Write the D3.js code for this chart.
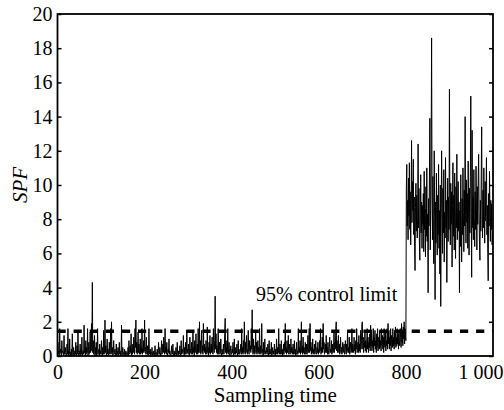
<!DOCTYPE html>
<html>
<head>
<meta charset="utf-8">
<script src="https://cdn.jsdelivr.net/npm/d3@7"></script>
<style>
  body { margin: 0; background: #fff; }
  svg text { font-family: "Times New Roman", "Liberation Serif", Times, "DejaVu Serif", serif; fill: #000; }
</style>
</head>
<body>
<div class="chart"></div>
<script>
var serifFont = "'Times New Roman', 'Liberation Serif', Times, 'DejaVu Serif', serif";

// SPF statistic, normal operation (samples 0-799)
var normalSPF = [
  0.2,0.8,0.1,0.3,0.0,1.6,0.2,0.4,0.1,0.0,0.9,0.2,0.3,0.1,0.0,1.2,0.1,0.3,0.5,0.1,
  0.0,0.2,0.7,0.1,1.6,0.0,0.3,0.1,1.0,0.0,0.2,0.1,0.4,0.0,1.3,0.2,0.0,0.5,0.1,0.0,
  0.3,0.1,0.8,0.0,0.2,0.6,0.1,1.5,0.2,0.0,0.3,0.1,0.7,0.0,0.4,0.1,1.1,0.0,0.2,0.3,
  0.1,1.8,0.2,0.3,0.0,0.9,0.1,0.5,0.2,1.6,0.0,0.3,0.8,0.1,0.4,1.4,0.2,0.5,1.9,0.3,
  4.3,0.2,0.9,0.1,0.3,1.2,0.0,0.5,0.1,0.8,0.0,0.2,1.6,0.1,0.2,0.4,0.0,0.7,0.1,0.3,
  0.1,0.9,0.2,0.0,0.5,0.1,1.5,0.1,0.3,2.1,0.2,0.6,0.0,0.2,1.0,0.1,0.4,0.0,0.2,0.8,
  0.1,0.3,1.6,0.1,2.0,0.2,0.5,0.0,0.2,0.9,0.1,0.2,0.4,0.0,0.1,0.7,0.0,0.3,0.1,0.5,
  0.0,0.2,0.8,0.1,0.3,0.0,0.1,1.8,0.0,0.2,0.5,0.1,0.2,0.0,0.4,0.1,0.0,0.3,0.1,0.2,
  0.0,0.1,0.5,0.0,0.9,0.2,0.1,0.6,0.2,1.3,0.0,0.3,0.1,0.7,0.2,1.1,0.4,0.1,1.6,0.5,
  2.1,0.2,0.8,0.1,0.4,1.4,0.2,0.7,0.1,0.3,1.0,0.1,0.5,0.2,1.6,0.1,0.4,0.2,0.9,0.3,
  2.1,0.2,0.5,0.1,1.1,0.2,0.1,0.6,0.0,0.3,1.6,0.1,0.2,0.4,0.0,0.2,0.1,0.5,0.0,0.2,
  0.1,0.3,0.0,0.2,0.6,0.1,0.0,0.2,0.1,0.4,0.0,0.1,0.8,0.2,0.1,0.5,0.2,0.0,0.3,0.9,
  0.1,0.4,0.7,0.2,1.1,0.3,0.1,1.6,0.2,0.5,0.1,0.8,0.2,0.0,0.4,0.2,1.0,0.1,0.3,0.1,
  0.0,0.2,0.6,0.1,0.2,0.7,0.0,0.1,0.3,0.0,0.2,0.1,0.5,0.0,0.2,0.8,0.1,0.0,0.3,0.1,
  0.2,0.6,0.0,0.2,0.9,0.1,0.1,0.4,0.2,1.2,0.2,0.0,0.5,0.1,0.8,0.1,0.3,1.5,0.2,0.4,
  0.1,0.7,0.2,0.0,1.1,0.2,0.4,0.1,0.8,0.3,0.1,1.5,0.2,0.5,0.0,0.9,0.2,0.4,1.3,0.1,
  0.3,0.7,0.1,1.6,0.2,0.5,2.0,0.2,0.9,0.1,0.4,1.5,0.2,0.6,0.1,1.9,0.3,0.7,0.2,0.5,
  0.1,0.9,0.2,0.1,1.7,0.2,0.5,0.0,0.8,0.2,1.2,0.1,0.4,0.7,0.2,1.1,0.3,0.1,1.6,0.4,
  0.2,0.9,3.5,0.4,1.3,0.2,0.6,0.1,0.5,1.6,0.1,0.3,0.8,0.1,0.2,1.0,0.2,0.0,0.4,0.1,
  0.2,0.7,0.1,0.3,1.4,2.2,0.2,0.5,0.1,0.9,0.2,1.6,0.1,0.4,0.8,0.2,0.0,0.3,0.6,0.1,
  0.1,0.4,0.2,0.8,0.0,0.2,1.0,0.1,0.5,0.1,0.3,0.2,0.7,0.0,0.2,0.9,0.1,0.4,0.1,0.2,
  0.3,0.7,0.1,1.6,0.2,0.5,0.1,0.9,0.2,2.0,0.4,0.1,0.8,0.2,1.2,0.3,0.1,0.5,1.5,0.2,
  0.1,0.9,0.3,0.6,0.2,1.6,0.4,2.7,0.5,0.1,1.0,0.2,0.6,0.1,0.4,1.5,0.2,0.8,0.1,0.3,
  0.9,0.2,0.5,0.1,1.6,0.2,0.6,0.1,0.3,1.9,0.2,0.4,0.0,0.8,0.1,0.2,1.0,0.1,0.3,0.2,
  0.5,0.1,0.2,0.7,0.0,0.2,0.9,0.1,0.4,0.1,0.2,0.8,0.0,0.2,0.5,0.1,0.3,0.1,0.7,0.2,
  0.0,0.4,0.1,1.0,0.2,0.1,0.5,0.2,1.6,0.1,0.3,0.7,0.1,0.2,0.9,0.1,0.4,0.0,0.2,0.7,
  0.1,0.8,0.3,1.9,0.2,0.5,0.1,0.9,0.2,0.4,1.2,0.1,0.3,0.7,0.1,0.2,1.0,0.2,0.5,0.1,
  0.3,0.7,0.1,0.2,0.9,0.1,0.4,0.0,0.2,0.8,0.1,0.3,0.1,1.6,0.2,0.5,0.2,0.9,0.1,0.4,
  2.0,0.2,0.6,0.1,1.1,0.2,0.5,0.1,0.3,0.8,0.1,0.2,0.7,0.1,0.4,1.2,0.2,0.5,1.6,0.2,
  1.9,0.3,0.8,0.1,0.5,0.2,1.0,0.1,0.4,0.2,0.7,0.1,0.3,0.9,0.2,0.1,0.5,0.2,0.8,0.1,
  0.4,0.2,0.9,0.3,1.6,0.1,0.5,0.2,1.1,0.2,1.9,0.4,0.8,0.1,0.3,0.7,0.2,1.2,0.2,0.5,
  0.1,0.8,0.3,0.1,0.5,1.1,0.2,0.4,0.2,0.9,0.1,0.3,0.7,0.2,0.5,1.5,0.2,0.8,0.4,1.6,
  2.0,0.3,0.9,0.2,0.5,1.2,0.2,0.7,0.1,0.4,1.1,0.2,0.5,0.1,0.3,0.8,0.2,0.4,0.7,0.1,
  0.2,0.9,0.4,0.1,0.7,0.3,1.5,0.2,0.5,0.2,1.1,0.1,0.4,0.8,0.2,0.3,1.6,0.2,0.7,0.4,
  0.2,1.1,0.3,0.7,0.1,0.9,0.4,1.6,0.2,0.5,0.8,0.2,1.2,0.3,0.7,0.2,1.5,0.4,0.9,1.9,
  2.0,0.4,1.1,0.2,0.8,0.5,1.5,0.3,0.9,0.2,0.7,1.6,0.4,1.1,0.2,0.8,0.5,1.3,0.3,1.8,
  0.6,1.5,0.3,0.9,0.5,1.6,0.2,1.1,0.6,1.5,0.4,0.9,0.2,1.3,0.5,1.6,0.3,0.8,1.1,0.4,
  1.5,0.5,0.9,0.3,1.6,0.6,1.2,0.4,1.1,0.2,1.6,0.7,0.5,1.5,0.3,0.9,0.6,1.6,0.4,1.9,
  0.7,1.5,0.4,1.1,0.6,1.6,0.3,1.2,0.9,0.5,1.6,0.6,1.1,0.4,1.5,0.7,1.7,0.5,1.1,0.6,
  1.6,0.7,1.3,0.4,1.5,0.9,0.6,1.6,1.1,0.5,1.9,0.8,1.5,0.6,1.7,1.0,2.0,0.7,1.6,1.1
];

// SPF statistic after the fault (samples 800-999)
var faultSPF = [
  0.9,9.8,11.2,7.6,9.1,6.8,10.4,8.2,11.3,7.4,9.6,6.5,8.9,12.6,7.8,10.2,8.5,11.5,7.1,9.3,
  6.4,5.0,8.7,10.1,7.3,9.4,6.9,8.1,12.4,7.5,9.8,6.6,5.6,8.4,10.6,7.2,9.0,6.3,8.8,7.7,
  9.5,6.1,10.8,7.4,8.6,5.8,9.9,7.0,11.0,6.7,8.3,3.7,9.2,7.6,10.3,13.9,6.2,8.9,12.0,18.6,
  9.7,6.8,10.5,7.3,5.4,12.0,8.1,3.3,9.0,6.6,10.7,7.8,5.9,9.4,7.1,11.2,6.3,8.5,4.8,10.0,
  2.9,7.9,12.0,8.6,6.0,9.8,7.2,10.9,5.5,8.4,6.9,11.6,7.5,9.1,4.3,8.0,10.4,6.7,9.3,7.4,
  15.6,8.2,6.5,10.1,7.7,9.6,5.2,8.8,11.3,7.0,9.4,6.2,10.7,8.3,5.7,9.9,7.5,11.8,6.8,8.6,
  10.2,7.3,9.0,3.7,8.5,6.4,10.6,7.9,5.5,9.2,7.1,11.0,8.4,6.1,9.7,7.6,14.0,8.2,6.6,10.3,
  7.8,9.5,6.3,11.4,8.0,5.9,9.8,7.2,10.5,15.2,8.7,4.6,13.2,7.5,9.3,6.8,10.9,8.1,6.4,9.6,
  7.4,11.1,8.6,6.2,9.9,7.7,10.3,11.8,8.4,6.5,5.6,9.1,7.3,10.6,13.4,8.0,6.9,9.7,7.5,11.0,
  8.3,6.6,10.2,7.9,9.4,11.6,7.1,8.8,6.0,4.4,9.5,7.6,10.8,8.2,6.7,9.1,7.4,8.9,6.5,7.2
];

var controlLimit = 1.45;
var xTicks = [0, 200, 400, 600, 800, 1000];
var yTicks = [0, 2, 4, 6, 8, 10, 12, 14, 16, 18, 20];

var svgWidth = 504;
var svgHeight = 410;

var margin = { top: 14, right: 11, bottom: 54, left: 57.5 };

var width = svgWidth - margin.left - margin.right;
var height = svgHeight - margin.top - margin.bottom;

var svg = d3.select(".chart")
  .append("svg")
  .attr("width", svgWidth)
  .attr("height", svgHeight)
  .style("display", "block");

var chartGroup = svg.append("g")
  .attr("transform", `translate(${margin.left}, ${margin.top})`);

// sample index -> value
var dataset = normalSPF.concat(faultSPF).map(function(v, i) {
  return { t: i, spf: v };
});

var xLinearScale = d3.scaleLinear().domain([0, 1000]).range([0, width]);
var yLinearScale = d3.scaleLinear().domain([0, 20]).range([height, 0]);

// format "1000" as "1 000"
function fmtX(d) {
  return d >= 1000 ? d3.format(",")(d).replace(",", " ") : String(d);
}

// clip the trace to the plotting box
svg.append("defs").append("clipPath")
  .attr("id", "plotClip")
  .append("rect")
  .attr("width", width)
  .attr("height", height);

// SPF trace
var line = d3.line()
  .x(d => xLinearScale(d.t))
  .y(d => yLinearScale(d.spf));

chartGroup.append("path")
  .datum(dataset)
  .attr("clip-path", "url(#plotClip)")
  .attr("fill", "none")
  .attr("stroke", "#000")
  .attr("stroke-width", 1)
  .attr("d", line);

// 95% control limit (dashed)
chartGroup.append("line")
  .attr("x1", xLinearScale(0))
  .attr("x2", xLinearScale(1000))
  .attr("y1", yLinearScale(controlLimit))
  .attr("y2", yLinearScale(controlLimit))
  .attr("stroke", "#000")
  .attr("stroke-width", 3.5)
  .attr("stroke-dasharray", "8.2,7.9");

chartGroup.append("text")
  .attr("x", xLinearScale(780))
  .attr("y", yLinearScale(3.2))
  .attr("text-anchor", "end")
  .attr("font-family", serifFont)
  .style("font-size", "20px")
  .text("95% control limit");

// axes: inward ticks on left and right, labels only on left/bottom
var leftAxis = d3.axisLeft(yLinearScale)
  .tickValues(yTicks)
  .tickSize(-4)
  .tickPadding(5);

var rightAxis = d3.axisRight(yLinearScale)
  .tickValues(yTicks)
  .tickSize(-4)
  .tickFormat("");

var bottomAxis = d3.axisBottom(xLinearScale)
  .tickValues(xTicks)
  .tickSize(0)
  .tickPadding(9)
  .tickFormat(fmtX);

var yAxisG = chartGroup.append("g").call(leftAxis);
var yAxisR = chartGroup.append("g")
  .attr("transform", `translate(${width}, 0)`)
  .call(rightAxis);
var xAxisG = chartGroup.append("g")
  .attr("transform", `translate(0, ${height})`)
  .call(bottomAxis);

[yAxisG, yAxisR, xAxisG].forEach(function(g) {
  g.attr("font-family", serifFont);
  g.select(".domain").remove();
  g.selectAll(".tick line").attr("stroke", "#000").attr("stroke-width", 1.5);
  g.selectAll(".tick text")
    .style("font-size", "20px")
    .attr("fill", "#000");
});

// keep "1 000" inside the picture, like the reference
xAxisG.selectAll(".tick text")
  .filter(d => d === 1000)
  .attr("text-anchor", "end")
  .attr("x", 10);

// frame
chartGroup.append("rect")
  .attr("width", width)
  .attr("height", height)
  .attr("fill", "none")
  .attr("stroke", "#000")
  .attr("stroke-width", 1.8);

// axis titles
chartGroup.append("text")
  .attr("x", width / 2)
  .attr("y", height + 46)
  .attr("text-anchor", "middle")
  .attr("font-family", serifFont)
  .style("font-size", "21px")
  .text("Sampling time");

chartGroup.append("text")
  .attr("transform", "rotate(-90)")
  .attr("x", -height / 2)
  .attr("y", -margin.left + 27)
  .attr("text-anchor", "middle")
  .attr("font-family", serifFont)
  .style("font-size", "21px")
  .style("font-style", "italic")
  .text("SPF");
</script>
</body>
</html>
